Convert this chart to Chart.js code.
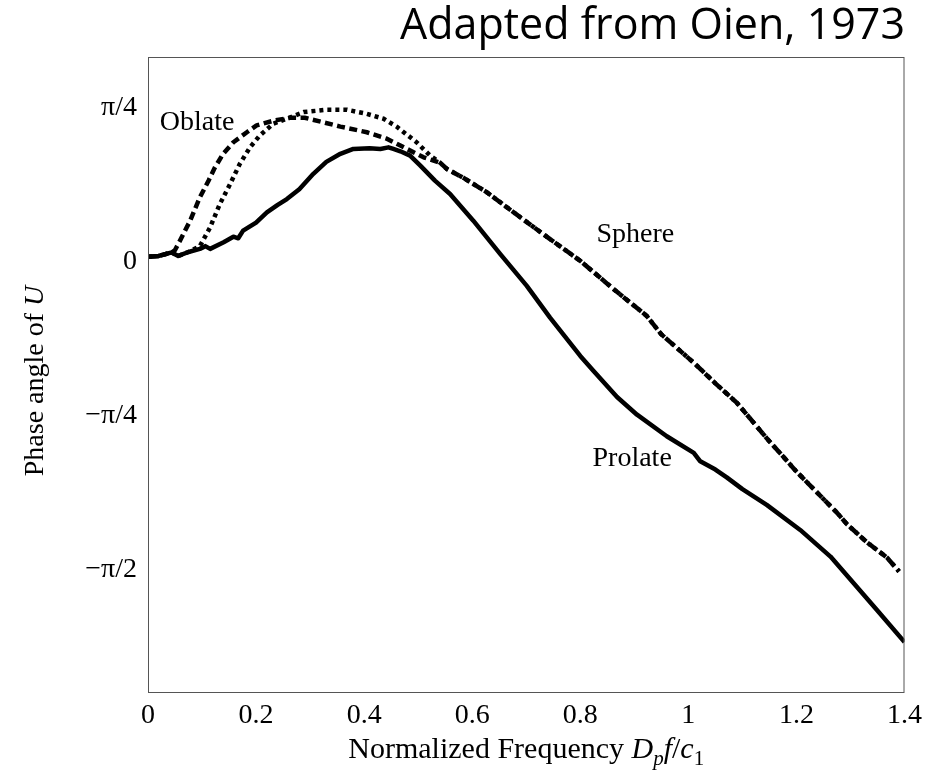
<!DOCTYPE html>
<html>
<head>
<meta charset="utf-8">
<script src="https://cdn.jsdelivr.net/npm/chart.js@4/dist/chart.umd.min.js"></script>
<style>
  body { margin: 0; background: #fff; }
  #wrap { width: 928px; height: 772px; }
</style>
</head>
<body>
<div id="wrap"><canvas id="phaseChart" width="928" height="772"></canvas></div>
<script>
// tick labels
const xTickValues = [0, 0.2, 0.4, 0.6, 0.8, 1, 1.2, 1.4];
const xTickLabels = ["0", "0.2", "0.4", "0.6", "0.8", "1", "1.2", "1.4"];
const yTickValues = [-Math.PI / 2, -Math.PI / 4, 0, Math.PI / 4];
const yTickLabels = ["\u2212\u03C0/2", "\u2212\u03C0/4", "0", "\u03C0/4"];

// prolate spheroid (solid)
const prolateFreq = [0, 0.02, 0.044, 0.056, 0.075, 0.096, 0.106, 0.115, 0.14, 0.158, 0.167, 0.176, 0.2, 0.22, 0.24, 0.257, 0.28, 0.306, 0.33, 0.356, 0.38, 0.41, 0.43, 0.445, 0.454, 0.467, 0.485, 0.504, 0.531, 0.559, 0.602, 0.652, 0.701, 0.744, 0.8, 0.825, 0.868, 0.905, 0.96, 1.01, 1.022, 1.05, 1.071, 1.1, 1.145, 1.207, 1.263, 1.306, 1.349, 1.4];
const prolatePhase = [0.026, 0.03, 0.048, 0.03, 0.05, 0.066, 0.08, 0.066, 0.1, 0.128, 0.12, 0.159, 0.2, 0.252, 0.29, 0.32, 0.37, 0.449, 0.51, 0.551, 0.576, 0.58, 0.576, 0.584, 0.576, 0.564, 0.542, 0.491, 0.414, 0.346, 0.21, 0.039, -0.123, -0.285, -0.48, -0.558, -0.69, -0.78, -0.89, -0.975, -1.018, -1.06, -1.1, -1.16, -1.24, -1.368, -1.504, -1.64, -1.777, -1.94];

// oblate spheroid (dashed), low frequency part
const oblateFreq = [0, 0.02, 0.044, 0.05, 0.059, 0.078, 0.096, 0.112, 0.124, 0.139, 0.158, 0.183, 0.201, 0.232, 0.263, 0.29, 0.32, 0.356, 0.405, 0.442, 0.467, 0.51];
const oblatePhase = [0.026, 0.03, 0.048, 0.06, 0.107, 0.21, 0.329, 0.414, 0.482, 0.551, 0.61, 0.661, 0.696, 0.72, 0.735, 0.735, 0.715, 0.69, 0.661, 0.628, 0.593, 0.533];

// sphere (dotted), low frequency part
const sphereFreq = [0, 0.02, 0.044, 0.056, 0.075, 0.096, 0.115, 0.133, 0.152, 0.17, 0.189, 0.207, 0.232, 0.257, 0.288, 0.331, 0.368, 0.405, 0.436, 0.46, 0.497, 0.522];
const spherePhase = [0.026, 0.03, 0.048, 0.03, 0.05, 0.08, 0.176, 0.295, 0.397, 0.5, 0.585, 0.645, 0.705, 0.73, 0.764, 0.776, 0.776, 0.755, 0.73, 0.69, 0.61, 0.542];

// oblate and sphere overlap above ~0.54
const sharedFreq = [0.541, 0.553, 0.584, 0.627, 0.689, 0.744, 0.8, 0.862, 0.923, 0.95, 1.01, 1.05, 1.09, 1.145, 1.2, 1.25, 1.275, 1.294, 1.33, 1.368, 1.39];
const sharedPhase = [0.505, 0.474, 0.428, 0.355, 0.227, 0.116, 0.005, -0.14, -0.276, -0.37, -0.515, -0.62, -0.72, -0.9, -1.07, -1.21, -1.28, -1.34, -1.43, -1.51, -1.58];

const curveLabels = ["Oblate", "Sphere", "Prolate"];

const toPoints = (xs, ys) => xs.map((x, i) => ({ x, y: ys[i] }));

const serif = '"Liberation Serif", "Times New Roman", serif';

// where the curve names sit, in data units
const labelSpots = [
    { x: 0.091, y: 0.71 },
    { x: 0.902, y: 0.138 },
    { x: 0.896, y: -1.003 }
];

// pieces of the axis titles (italic symbols, subscripts)
const xTitleRuns = [
    { t: "Normalized Frequency " },
    { t: "D", it: true },
    { t: "p", it: true, sub: true },
    { t: "f", it: true },
    { t: "/" },
    { t: "c", it: true },
    { t: "1", sub: true }
];
const yTitleRuns = [
    { t: "Phase angle of " },
    { t: "U", it: true }
];

function runFont(r, size) {
    const s = r.sub ? Math.round(size * 0.7) : size;
    return (r.it ? "italic " : "") + s + "px " + serif;
}

function drawRuns(ctx, runs, x, y, angle, size) {
    ctx.save();
    ctx.translate(x, y);
    ctx.rotate(angle);
    ctx.textAlign = "left";
    ctx.textBaseline = "alphabetic";
    let total = 0;
    runs.forEach(r => {
        ctx.font = runFont(r, size);
        total += ctx.measureText(r.t).width;
    });
    let pos = -total / 2;
    runs.forEach(r => {
        ctx.font = runFont(r, size);
        ctx.fillText(r.t, pos, r.sub ? size * 0.22 : 0);
        pos += ctx.measureText(r.t).width;
    });
    ctx.restore();
}

const phaseExtras = {
    id: "phaseExtras",
    afterDraw(chart) {
        const { ctx, chartArea: a, scales: { x, y } } = chart;
        ctx.save();
        // frame
        ctx.strokeStyle = "#555";
        ctx.lineWidth = 1;
        ctx.strokeRect(a.left + 0.5, a.top + 0.5, a.right - a.left - 1, a.bottom - a.top - 1);

        // curve names
        ctx.fillStyle = "#000";
        ctx.font = "28px " + serif;
        ctx.textAlign = "center";
        ctx.textBaseline = "middle";
        curveLabels.forEach((name, i) => {
            ctx.fillText(name, x.getPixelForValue(labelSpots[i].x), y.getPixelForValue(labelSpots[i].y));
        });

        drawRuns(ctx, xTitleRuns, (a.left + a.right) / 2, 758, 0, 30);
        drawRuns(ctx, yTitleRuns, 43, 381, -Math.PI / 2, 28);
        ctx.restore();
    }
};

const lineBase = {
    borderColor: "#000",
    borderWidth: 4.5,
    pointRadius: 0,
    fill: false,
    tension: 0,
    borderCapStyle: "butt",
    borderJoinStyle: "round"
};

new Chart(document.getElementById("phaseChart"), {
    type: "line",
    data: {
        datasets: [
            { ...lineBase, label: "Prolate", data: toPoints(prolateFreq, prolatePhase) },
            {
                ...lineBase, label: "Oblate", borderDash: [8, 4.5],
                data: toPoints(oblateFreq.concat(sharedFreq), oblatePhase.concat(sharedPhase))
            },
            {
                ...lineBase, label: "Sphere", borderDash: [4, 4],
                data: toPoints(sphereFreq.concat(sharedFreq), spherePhase.concat(sharedPhase))
            }
        ]
    },
    options: {
        responsive: false,
        animation: false,
        devicePixelRatio: 1,
        layout: { padding: { left: 0, right: 23, top: 0, bottom: 0 } },
        plugins: {
            legend: { display: false },
            tooltip: { enabled: false },
            title: {
                display: true,
                text: "Adapted from Oien, 1973",
                align: "end",
                color: "#000",
                font: { family: '"Open Sans", sans-serif', size: 43, weight: "normal", lineHeight: 1 },
                padding: { top: 5, bottom: 9 }
            }
        },
        scales: {
            x: {
                type: "linear",
                min: 0,
                max: 1.4,
                grid: { display: false, drawTicks: false },
                border: { display: false },
                afterBuildTicks: scale => { scale.ticks = xTickValues.map(v => ({ value: v })); },
                afterFit: scale => { scale.height = 79; },
                ticks: {
                    autoSkip: false,
                    maxRotation: 0,
                    padding: 6,
                    color: "#000",
                    font: { family: serif, size: 28 },
                    callback: (v, i) => xTickLabels[i]
                }
            },
            y: {
                type: "linear",
                min: -2.2,
                max: 1.045,
                grid: { display: false, drawTicks: false },
                border: { display: false },
                afterBuildTicks: scale => { scale.ticks = yTickValues.map(v => ({ value: v })); },
                afterFit: scale => { scale.width = 148; },
                ticks: {
                    autoSkip: false,
                    padding: 11,
                    color: "#000",
                    font: { family: serif, size: 28 },
                    callback: (v, i) => yTickLabels[i]
                }
            }
        }
    },
    plugins: [phaseExtras]
});
</script>
</body>
</html>
